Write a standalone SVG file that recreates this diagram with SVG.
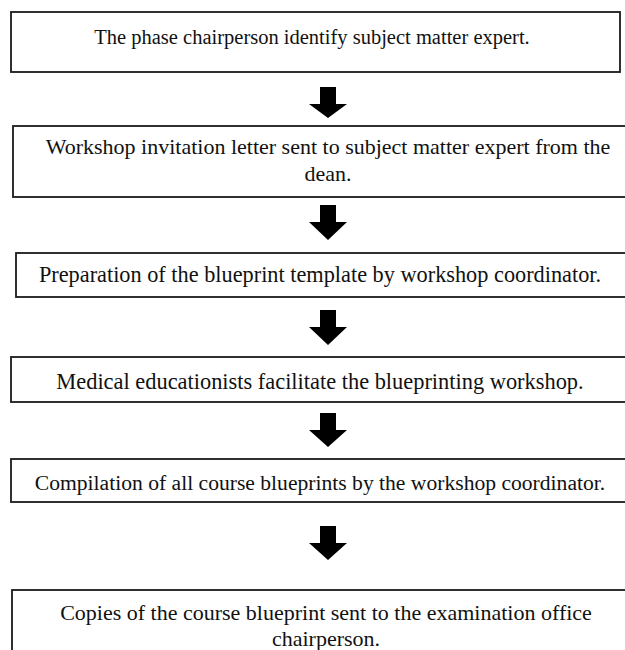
<svg xmlns="http://www.w3.org/2000/svg" width="625" height="650" viewBox="0 0 625 650">
<style>
.box{fill:#fff;stroke:#1a1a1a;stroke-width:1.8}
.t{font-family:"Liberation Serif","Times New Roman","DejaVu Serif",serif;font-size:22px;fill:#111;text-anchor:middle}
.arr{fill:#000}
</style>
<rect width="625" height="650" fill="#fff"/>
<g id="connectors">
<path class="arr" d="M320,87 H336 V104 H347 L328,118 L309,104 H320 Z"/>
<path class="arr" d="M320,205 H336 V222 H347 L328,240 L309,222 H320 Z"/>
<path class="arr" d="M320,310 H336 V327 H347 L328,345 L309,327 H320 Z"/>
<path class="arr" d="M320,413 H336 V430 H347 L328,447 L309,430 H320 Z"/>
<path class="arr" d="M320,526 H336 V543 H347 L328,560 L309,543 H320 Z"/>
</g>
<g id="n1">
<rect class="box" x="11" y="12" width="609" height="60"/>
<text class="t" x="312" y="44" style="font-size:20.5px">The phase chairperson identify subject matter expert.</text>
</g>
<g id="n2">
<rect class="box" x="13" y="126" width="620" height="71"/>
<text class="t" x="328" y="154">Workshop invitation letter sent to subject matter expert from the</text>
<text class="t" x="328" y="181">dean.</text>
</g>
<g id="n3">
<rect class="box" x="16" y="253" width="617" height="44"/>
<text class="t" x="320" y="282" style="font-size:22.3px">Preparation of the blueprint template by workshop coordinator.</text>
</g>
<g id="n4">
<rect class="box" x="11" y="357" width="622" height="45"/>
<text class="t" x="320" y="389" style="font-size:22.4px">Medical educationists facilitate the blueprinting workshop.</text>
</g>
<g id="n5">
<rect class="box" x="11" y="459" width="622" height="43"/>
<text class="t" x="320" y="490" style="font-size:21.6px">Compilation of all course blueprints by the workshop coordinator.</text>
</g>
<g id="n6">
<rect class="box" x="12" y="590" width="621" height="80"/>
<text class="t" x="326" y="620">Copies of the course blueprint sent to the examination office</text>
<text class="t" x="326" y="646">chairperson.</text>
</g>
</svg>
